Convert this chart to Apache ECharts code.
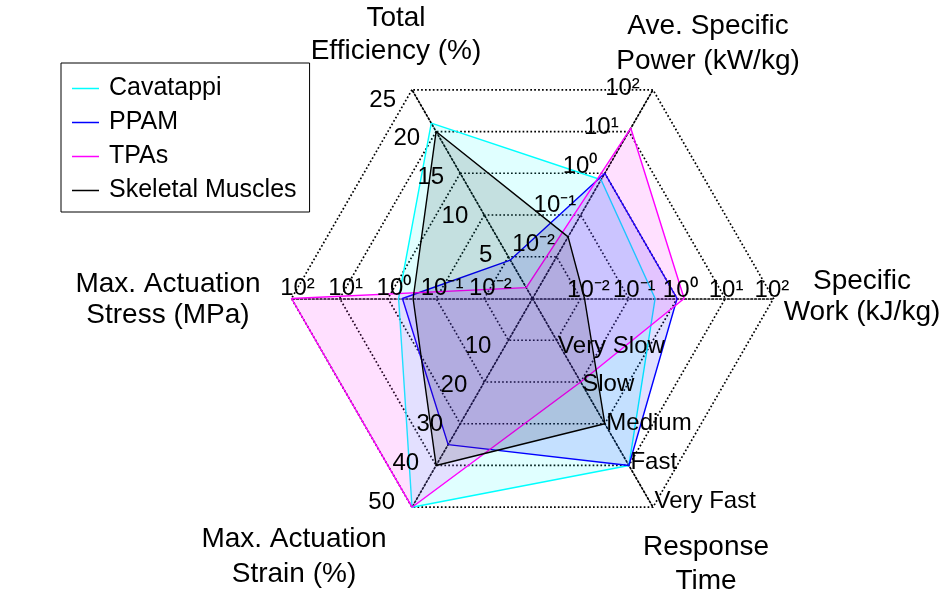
<!DOCTYPE html>
<html>
<head>
<meta charset="utf-8">
<script src="https://cdn.jsdelivr.net/npm/echarts@6/dist/echarts.min.js"></script>
<style>html,body{margin:0;padding:0;background:#fff}#c{width:950px;height:596px}</style>
</head>
<body>
<div id="c"></div>
<script>
// ---- data ----
const seriesNames = ['Cavatappi', 'PPAM', 'TPAs', 'Skeletal Muscles'];
const seriesColors = ['#00FFFF', '#0000FF', '#FF00FF', '#000000'];
// axes (counter-clockwise from upper-left)
const axisNames = ['Total\nEfficiency (%)', 'Max. Actuation\nStress (MPa)', 'Max. Actuation\nStrain (%)', 'Response\nTime', 'Specific\nWork (kJ/kg)', 'Ave. Specific\nPower (kW/kg)'];
const efficiency = [21, 4.6, 1.3, 20];          // %
const stress = [0.6, 0.5, 100, 0.3];            // MPa (log)
const strain = [50, 35, 50, 40];                // %
const responseTime = ['Fast', 'Fast', 'Slow', 'Medium'];
const specificWork = [0.35, 1, 1.4, 0.012];     // kJ/kg (log)
const specificPower = [0.7, 1, 12, 0.03];       // kW/kg (log)
// tick labels
const efficiencyTicks = ['5', '10', '15', '20', '25'];
const logTicks = ['10\u207B\u00B2', '10\u207B\u00B9', '10\u2070', '10\u00B9', '10\u00B2'];
const speedLevels = ['Very Slow', 'Slow', 'Medium', 'Fast', 'Very Fast'];
const strainTicks = ['10', '20', '30', '40', '50'];

// ---- scales: each axis mapped to 0..5 rings ----
const toLevel = [
  v => v / 5,
  v => Math.log10(v) + 3,
  v => v / 10,
  v => speedLevels.indexOf(v) + 1,
  v => Math.log10(v) + 3,
  v => Math.log10(v) + 3
];
const rawCols = [efficiency, stress, strain, responseTime, specificWork, specificPower];

const CX = 532.5, CY = 298.5, R = 241, START = 120, N = 6, LEVELS = 5;
const FONT = 'Liberation Sans, Arial, sans-serif';
function vertex(i, level) {
  const a = (START + i * 360 / N) * Math.PI / 180;
  const r = level / LEVELS * R;
  return [CX + r * Math.cos(a), CY - r * Math.sin(a)];
}

const chart = echarts.init(document.getElementById('c'), null, {renderer: 'canvas'});

const series = seriesNames.map((name, s) => ({
  type: 'radar',
  name: name,
  symbol: 'none',
  z: 2 + s,
  lineStyle: {color: seriesColors[s], width: 1.4},
  itemStyle: {color: seriesColors[s]},
  areaStyle: {color: seriesColors[s], opacity: 0.12},
  data: [{name: name, value: rawCols.map((col, i) => toLevel[i](col[s]))}]
}));

// tick label placement per axis: labels, align, sx, dx, sy, dy
const tickDefs = [
  [efficiencyTicks, 'right', 1, -16, 0.928, -4.8],
  [logTicks, 'center', 1, 6, 1, -10],
  [strainTicks, 'right', 1, -17, 0.934, 8.5],
  [speedLevels, 'left', 1, 1.5, 0.928, 8.8],
  [logTicks, 'center', 0.952, 10, 1, -8.5],
  [logTicks, 'right', 0.88, 1.3, 0.934, -15.2]
];
const graphics = [];
tickDefs.forEach((d, i) => {
  d[0].forEach((t, k) => {
    const p = vertex(i, k + 1);
    graphics.push({
      type: 'text', z: 50,
      style: {text: t, x: CX + (p[0] - CX) * d[2] + d[3], y: CY + (p[1] - CY) * d[4] + d[5],
              align: d[1], verticalAlign: 'middle',
              fontSize: 24, fontFamily: FONT, fill: '#000'}
    });
  });
});
// axis titles: center x, center y, line height
const namePos = [[396, 35, 33], [168, 299.5, 31], [294, 557, 35], [706, 564, 34], [862, 296.5, 31], [708, 44, 35]];
axisNames.forEach((n, i) => {
  graphics.push({
    type: 'text', z: 50,
    style: {text: n, x: namePos[i][0], y: namePos[i][1], align: 'center', verticalAlign: 'middle',
            fontSize: 28, lineHeight: namePos[i][2], fontFamily: FONT, fill: '#000'}
  });
});

chart.setOption({
  animation: false,
  backgroundColor: '#fff',
  color: seriesColors,
  legend: {
    orient: 'vertical', left: 61, top: 63,
    data: seriesNames,
    icon: 'rect', itemWidth: 27, itemHeight: 1.5, itemGap: 9,
    padding: [13, 13, 9, 11],
    borderColor: '#000', borderWidth: 1, backgroundColor: '#fff',
    textStyle: {fontSize: 25, fontFamily: FONT, color: '#000', lineHeight: 25, padding: [0, 0, 0, 5]},
    z: 100
  },
  radar: {
    center: [CX, CY], radius: R, startAngle: START, splitNumber: LEVELS, shape: 'polygon',
    indicator: axisNames.map(n => ({name: n, min: 0, max: LEVELS})),
    axisName: {show: false},
    splitLine: {lineStyle: {color: '#000', width: 1.7, type: [1.7, 2.2]}},
    splitArea: {show: false},
    axisLine: {lineStyle: {color: '#000', width: 1.7, type: [1.7, 2.2]}},
    axisTick: {show: false},
    axisLabel: {show: false}
  },
  series: series,
  graphic: graphics
});
</script>
</body>
</html>
